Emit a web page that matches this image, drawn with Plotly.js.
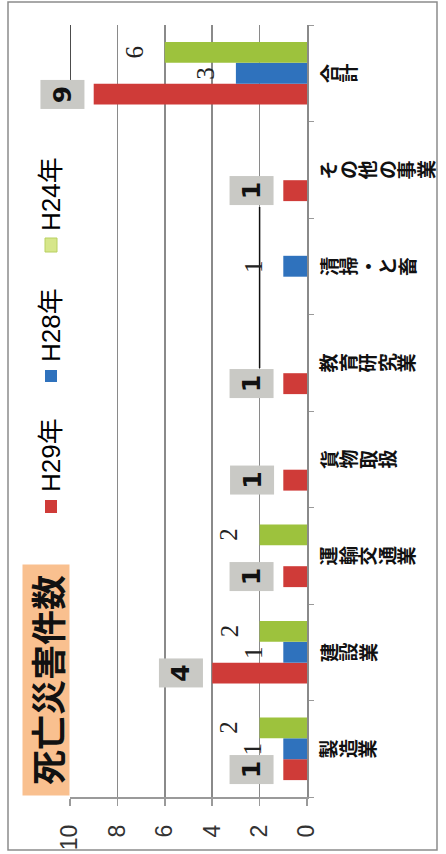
<!DOCTYPE html>
<html>
<head>
<meta charset="utf-8">
<script src="https://cdn.plot.ly/plotly-3.0.1.min.js"></script>
<style>html,body{margin:0;padding:0;background:#fff;}#chart{width:446px;height:854px;}</style>
</head>
<body>
<div id="chart"></div>
<script>
// ---- data ----
const categories = ["製造業", "建設業", "運輸交通業", "貨物取扱", "教育研究業", "清掃・と畜", "その他の事業", "合計"];
const seriesNames = ["H29年", "H28年", "H24年"];
const h29 = [1, 4, 1, 1, 1, 0, 1, 9];
const h28 = [1, 1, 0, 0, 0, 1, 0, 3];
const h24 = [2, 2, 2, 0, 0, 0, 0, 6];
const valueTicks = [0, 2, 4, 6, 8, 10];
const chartTitle = "死亡災害件数";

// ---- layout helpers ----
const W = 446, H = 854;
const M = {l: 70, r: 139, t: 25, b: 57};
const pw = W - M.l - M.r, ph = H - M.t - M.b;
const px2x = p => (p - M.l) / pw;
const px2y = p => (H - M.b - p) / ph;

const colors = ["#cf3b38", "#2f72bd", "#9dc23d"];
const series = [h29, h28, h24];
const barPx = 21;

const traces = series.map((vals, i) => ({
  type: "bar",
  orientation: "h",
  name: seriesNames[i],
  y: categories,
  x: vals,
  marker: {color: colors[i]},
  hoverinfo: "skip"
}));

const annotations = [];
// value labels
series.forEach((vals, si) => {
  vals.forEach((v, ci) => {
    if (!v) return;
    const yshift = (si - 1) * barPx;
    if (si === 0) {
      annotations.push({
        x: v, y: categories[ci], xref: "x", yref: "y",
        text: "<b>" + v + "</b>", showarrow: false, textangle: -90,
        xanchor: "right", yanchor: "middle", xshift: -9, yshift: yshift,
        bgcolor: "#c9c9c5", width: 26, height: 41, borderpad: 1,
        font: {family: "DejaVu Sans", size: 25, color: "#111"}
      });
    } else {
      annotations.push({
        x: v, y: categories[ci], xref: "x", yref: "y",
        text: String(v), showarrow: false, textangle: -90,
        xanchor: "right", yanchor: "middle", xshift: -15, yshift: yshift,
        font: {family: "Liberation Serif", size: 25, color: "#222"}
      });
    }
  });
});
// category labels (each character rotated)
categories.forEach((c, ci) => {
  Array.from(c).forEach((ch, k) => {
    annotations.push({
      x: px2x(318 + 9.75 + 19.5 * k), y: c, xref: "paper", yref: "y",
      text: "<b>" + ch + "</b>", showarrow: false, textangle: -90,
      xanchor: "center", yanchor: "middle",
      font: {family: "Noto Sans CJK JP", size: 19, color: "#111"}
    });
  });
});
// title
annotations.push({
  x: px2x(46), y: px2y(680), xref: "paper", yref: "paper",
  text: "<b>" + chartTitle + "</b>", showarrow: false, textangle: -90,
  xanchor: "center", yanchor: "middle", bgcolor: "#f9c08f",
  width: 230, height: 46, borderpad: 0,
  font: {family: "Noto Sans CJK JP", size: 35, color: "#111"}
});
// legend texts
const legendTextY = [455, 325, 194];
const legendSqY = [[500, 513], [370, 382], [238, 252]];
seriesNames.forEach((n, i) => {
  annotations.push({
    x: px2x(51), y: px2y(legendTextY[i]), xref: "paper", yref: "paper",
    text: n, showarrow: false, textangle: -90, xanchor: "center", yanchor: "middle",
    font: {family: "Liberation Sans, Noto Sans CJK JP", size: 26, color: "#000"}
  });
});

const shapes = [];
seriesNames.forEach((n, i) => {
  shapes.push({
    type: "rect", xref: "paper", yref: "paper", layer: "above",
    x0: px2x(45), x1: px2x(57), y0: px2y(legendSqY[i][1]), y1: px2y(legendSqY[i][0]),
    fillcolor: i === 2 ? "#d6e68a" : colors[i],
    line: {width: i === 2 ? 1 : 0, color: "#b8d060"}
  });
});
// outer border
shapes.push({
  type: "rect", xref: "paper", yref: "paper", layer: "below",
  x0: px2x(8), x1: px2x(437), y0: px2y(850), y1: px2y(2),
  line: {color: "#8c8c8c", width: 1.5}, fillcolor: "rgba(0,0,0,0)"
});
// pen-drawn dark line segments on the grid
shapes.push({type: "line", xref: "x", yref: "paper", x0: 2, x1: 2, y0: px2y(368), y1: px2y(207), line: {color: "#111", width: 1.5}, layer: "above"});
shapes.push({type: "line", xref: "x", yref: "paper", x0: 10, x1: 10, y0: px2y(80), y1: px2y(25), line: {color: "#111", width: 1.5}, layer: "above"});

const layout = {
  width: W, height: H,
  margin: M,
  paper_bgcolor: "#ffffff", plot_bgcolor: "#ffffff",
  barmode: "group", bargap: 0.35, bargroupgap: 0,
  showlegend: false,
  xaxis: {
    range: [10, 0], tickvals: valueTicks, ticktext: valueTicks.map(String),
    tickangle: -90, showgrid: true, gridcolor: "#8a8a8a", gridwidth: 1.5,
    showline: true, linecolor: "#9a9a9a", linewidth: 1.5,
    ticks: "outside", ticklen: 7, tickcolor: "#9a9a9a", tickwidth: 1.5,
    ticklabelstandoff: 10, zeroline: false, fixedrange: true,
    tickfont: {family: "Liberation Sans", size: 23, color: "#333"}
  },
  yaxis: {
    type: "category", categoryorder: "array", categoryarray: categories,
    range: [-0.5, categories.length - 0.5],
    side: "right", showticklabels: false, showgrid: false,
    showline: true, linecolor: "#8a8a8a", linewidth: 1.5,
    ticks: "outside", tickson: "boundaries", ticklen: 5, tickcolor: "#9a9a9a",
    fixedrange: true
  },
  annotations: annotations,
  shapes: shapes
};

Plotly.newPlot("chart", traces, layout, {staticPlot: true, displayModeBar: false});
</script>
</body>
</html>
